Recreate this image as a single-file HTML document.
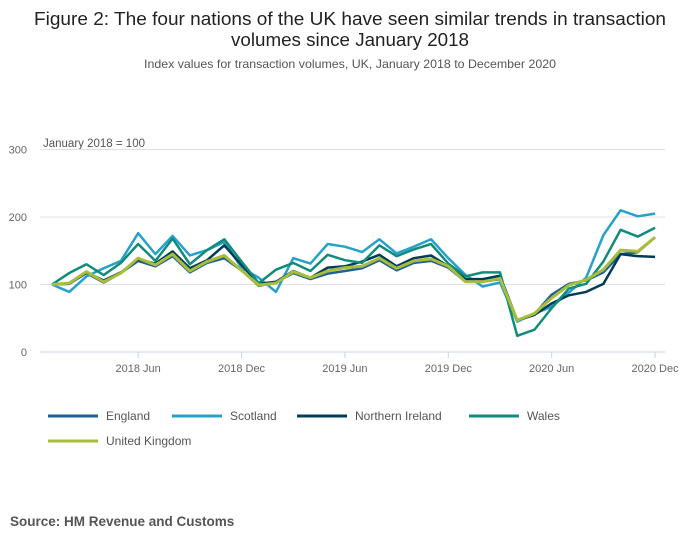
<!DOCTYPE html>
<html><head><meta charset="utf-8"><style>
html,body{margin:0;padding:0;background:#fff;width:700px;height:549px;overflow:hidden}
svg{display:block;font-family:"Liberation Sans",sans-serif}
</style></head><body>
<svg id="chart" width="700" height="549" viewBox="0 0 700 549" xmlns="http://www.w3.org/2000/svg">
<text x="350" y="25" text-anchor="middle" font-size="18" fill="#222" textLength="632" lengthAdjust="spacingAndGlyphs">Figure 2: The four nations of the UK have seen similar trends in transaction</text>
<text x="350" y="46" text-anchor="middle" font-size="18" fill="#222" textLength="238" lengthAdjust="spacingAndGlyphs">volumes since January 2018</text>
<text x="350" y="68" text-anchor="middle" font-size="12" fill="#555" textLength="412" lengthAdjust="spacingAndGlyphs">Index values for transaction volumes, UK, January 2018 to December 2020</text>
<text x="43" y="147" font-size="11.5" fill="#555">January 2018 = 100</text>
<g id="grid"></g>
<g id="xaxis"></g>
<g id="series"></g>
<g id="legend"></g>
<text x="10" y="526" font-size="13.5" font-weight="bold" fill="#555">Source: HM Revenue and Customs</text>
</svg>
<script>
const yTicks=[0,100,200,300];
const xTickLabels=["2018 Jun","2018 Dec","2019 Jun","2019 Dec","2020 Jun","2020 Dec"];
const xTickIndex=[5,11,17,23,29,35];
const seriesNames=["England","Scotland","Northern Ireland","Wales","United Kingdom"];
const england=[100,101,117,103,117,135,127,142,118,132,139,121,98,103,117,108,116,120,124,136,121,132,135,125,104,104,108,47,56,85,101,106,118,145,148,170];
const scotland=[100,89,112,124,135,176,145,172,143,151,163,125,110,89,139,131,160,156,148,167,146,156,167,139,114,97,103,45,57,67,88,110,173,210,201,205];
const northernIreland=[100,102,118,106,118,137,131,149,124,136,158,129,101,104,120,110,125,127,134,144,127,139,143,127,108,108,113,47,55,72,84,89,101,145,142,141];
const wales=[100,117,130,114,132,160,135,168,130,151,167,134,102,122,132,120,144,136,132,158,142,152,160,131,112,118,118,24,33,65,94,101,134,181,171,184];
const unitedKingdom=[100,102,119,104,117,139,129,145,120,134,143,121,99,102,119,110,120,125,127,139,124,135,138,127,104,104,109,47,57,80,99,107,122,151,149,170];
const colors=["#206095","#27a0cc","#003c57","#118c7b","#a8bd3a"];
const NS="http://www.w3.org/2000/svg";
const X=i=>52+i*17.23;
const Y=v=>352-v*0.675;
function mk(t,a,p){const e=document.createElementNS(NS,t);for(const k in a)e.setAttribute(k,a[k]);p.appendChild(e);return e;}
const grid=document.getElementById('grid');
yTicks.forEach(v=>{
  const l=mk('line',{x1:40,x2:665,y1:Y(v),y2:Y(v),stroke:v===0?'#c8d4e6':'#e0e0e0','stroke-width':1},grid);
  
  
  const t=mk('text',{x:27,y:Y(v)+4,'text-anchor':'end','font-size':11,fill:'#666'},grid);
  t.textContent=v;
  
  
});
const xa=document.getElementById('xaxis');
xTickIndex.forEach((ix,k)=>{
  const l=mk('line',{x1:X(ix),x2:X(ix),y1:352,y2:358,stroke:'#c8d4e6'},xa);
  
  
  const t=mk('text',{x:X(ix),y:372,'text-anchor':'middle','font-size':11,fill:'#666'},xa);
  t.textContent=xTickLabels[k];
  
  
});
const data=[england,scotland,northernIreland,wales,unitedKingdom];
const sg=document.getElementById('series');
data.forEach((d,s)=>{
  const p=mk('polyline',{points:d.map((v,i)=>X(i)+','+Y(v)).join(' '),fill:'none',stroke:colors[s],'stroke-width':s===4?3:2.5,'stroke-linejoin':'round'},sg);
  
  
});
const lg=document.getElementById('legend');
const lpos=[[48,416],[172,416],[297,416],[469,416],[48,441]];
seriesNames.forEach((n,s)=>{
  const g=mk('g',{},lg);
  
  
  mk('line',{x1:lpos[s][0],x2:lpos[s][0]+50,y1:lpos[s][1],y2:lpos[s][1],stroke:colors[s],'stroke-width':3},g);
  const t=mk('text',{x:lpos[s][0]+58,y:lpos[s][1]+4,'font-size':12,fill:'#555'},g);
  t.textContent=n;
});
</script>
</body></html>
